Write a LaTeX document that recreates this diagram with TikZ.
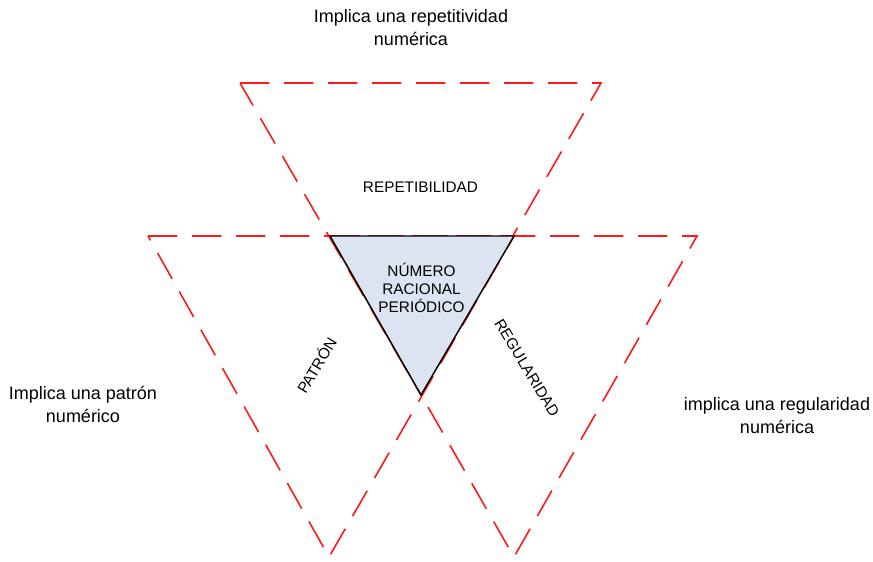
\documentclass[tikz,border=0pt]{standalone}
\usepackage{fontspec}
\setmainfont{Liberation Sans}
\definecolor{fillblue}{HTML}{DBE4F0}
\definecolor{dashred}{HTML}{FF1A1A}
\begin{document}
\begin{tikzpicture}[x=0.75pt,y=-0.75pt,
  redtri/.style={draw=dashred,line width=1.2pt,dash pattern=on 22pt off 11pt,line join=miter},
  core/.style={draw=black,fill=fillblue,line width=1.1pt,line join=miter},
  bigtext/.style={align=center,font=\fontsize{13.5}{17.25}\selectfont,inner sep=0pt},
  smalltext/.style={align=center,font=\fontsize{11.5}{13.5}\selectfont,inner sep=0pt}]
\useasboundingbox (0,0) rectangle (873,561);
% vertices
\coordinate (t1) at (240,83); \coordinate (t2) at (601,83); \coordinate (t3) at (421,395);
\coordinate (l1) at (148,236); \coordinate (l2) at (514,236); \coordinate (l3) at (329,557);
\coordinate (r1) at (330,236); \coordinate (r2) at (697,236); \coordinate (r3) at (514,557);
% dashed triangles
\draw[redtri] (t1) -- (t2) -- (t3) -- cycle;
\draw[redtri] (l1) -- (l2) -- (l3) -- cycle;
\draw[redtri] (r1) -- (r2) -- (r3) -- cycle;
% central triangle
\draw[core] (r1) -- (l2) -- (t3) -- cycle;
% labels
\node[bigtext] (toptext) at (411,28) {Implica una repetitividad\\numérica};
\node[bigtext] (lefttext) at (83,404) {Implica una patrón\\numérico};
\node[bigtext] (righttext) at (777,416) {implica una regularidad\\numérica};
\node[smalltext] (rep) at (420.5,187) {REPETIBILIDAD};
\node[smalltext] (center) at (421.5,288) {NÚMERO\\RACIONAL\\PERIÓDICO};
\node[smalltext,rotate=59] (pat) at (316,365) {PATRÓN};
\node[smalltext,rotate=-59] (reg) at (527,368) {REGULARIDAD};
\end{tikzpicture}
\end{document}
